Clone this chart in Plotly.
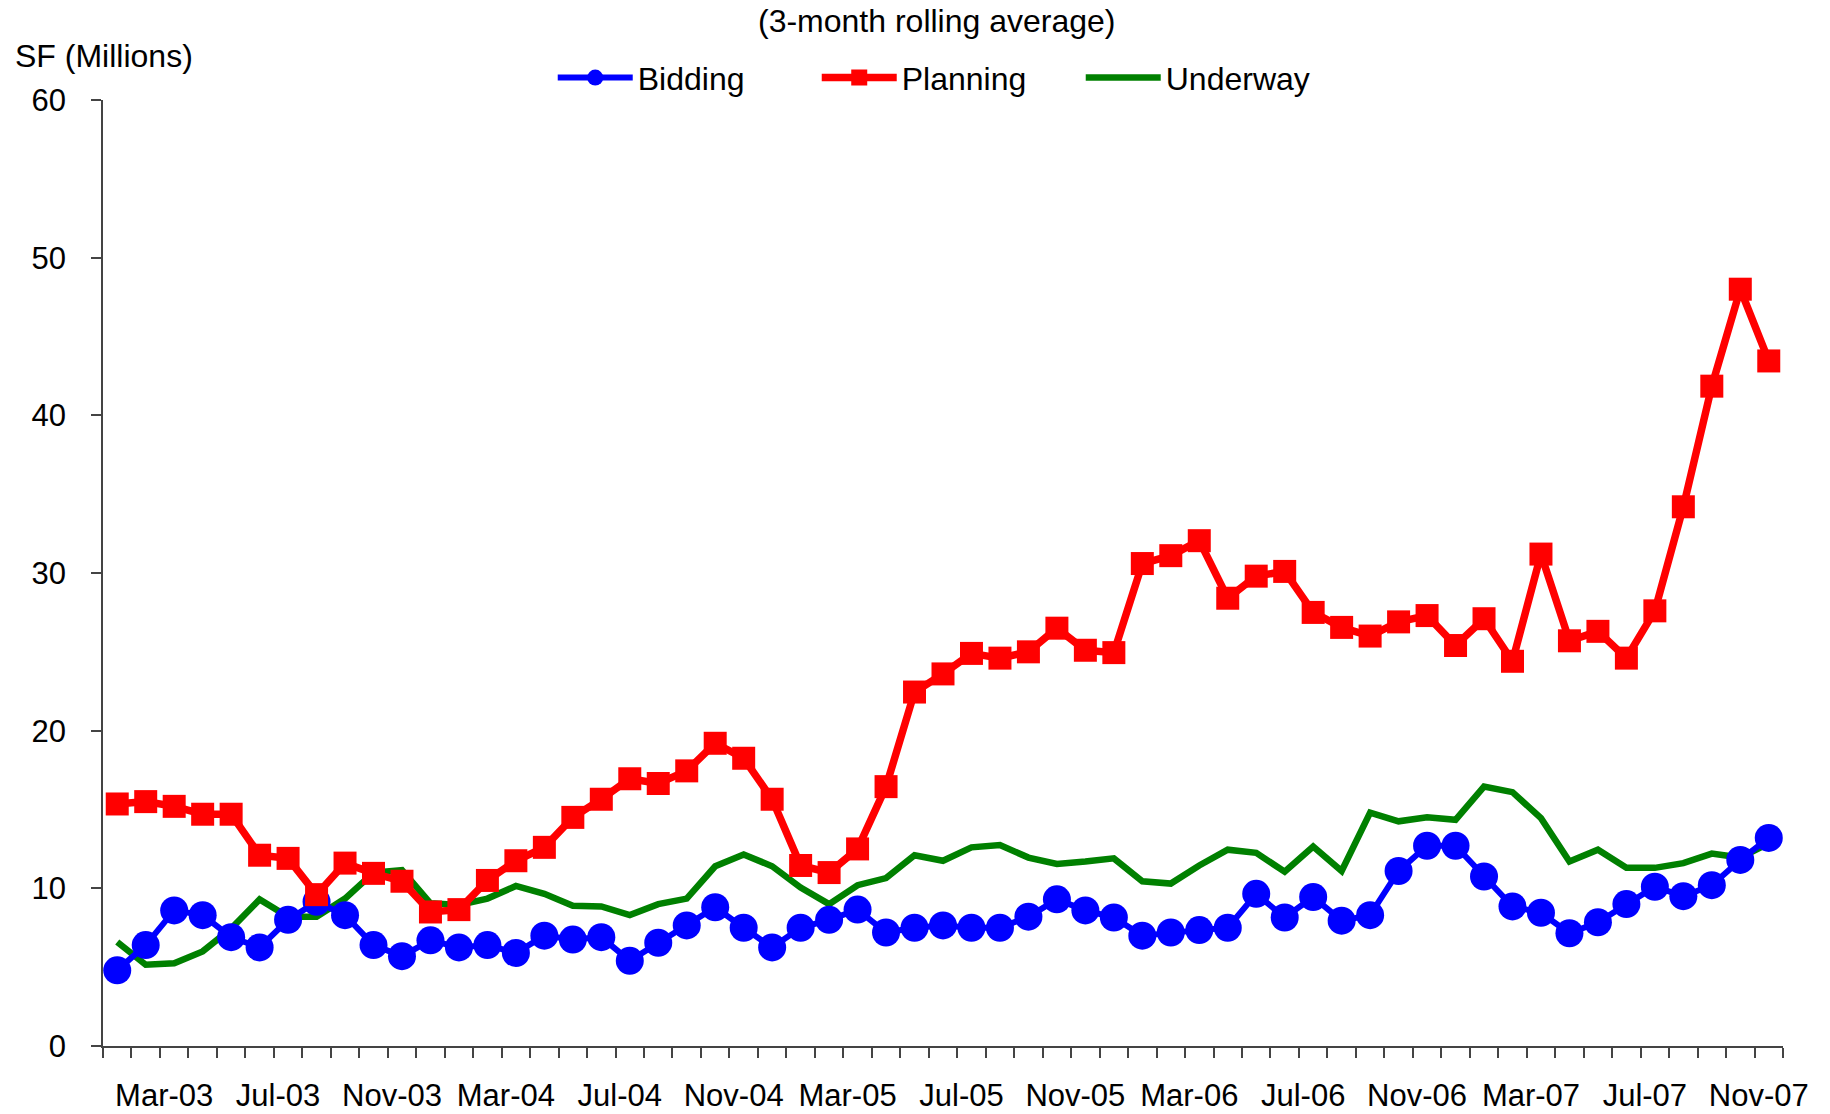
import plotly.graph_objects as go

months = [
    "Jan-03", "Feb-03", "Mar-03", "Apr-03", "May-03", "Jun-03", "Jul-03", "Aug-03", "Sep-03", "Oct-03", "Nov-03", "Dec-03",
    "Jan-04", "Feb-04", "Mar-04", "Apr-04", "May-04", "Jun-04", "Jul-04", "Aug-04", "Sep-04", "Oct-04", "Nov-04", "Dec-04",
    "Jan-05", "Feb-05", "Mar-05", "Apr-05", "May-05", "Jun-05", "Jul-05", "Aug-05", "Sep-05", "Oct-05", "Nov-05", "Dec-05",
    "Jan-06", "Feb-06", "Mar-06", "Apr-06", "May-06", "Jun-06", "Jul-06", "Aug-06", "Sep-06", "Oct-06", "Nov-06", "Dec-06",
    "Jan-07", "Feb-07", "Mar-07", "Apr-07", "May-07", "Jun-07", "Jul-07", "Aug-07", "Sep-07", "Oct-07", "Nov-07",
]

label_months = ["Mar-03", "Jul-03", "Nov-03", "Mar-04", "Jul-04", "Nov-04", "Mar-05", "Jul-05",
                "Nov-05", "Mar-06", "Jul-06", "Nov-06", "Mar-07", "Jul-07", "Nov-07"]

bidding = [4.8, 6.4, 8.6, 8.3, 6.9, 6.25, 8.0, 9.15, 8.3, 6.4, 5.7, 6.7, 6.25, 6.4, 5.9, 7.0, 6.75,
           6.9, 5.4, 6.55, 7.65, 8.8, 7.5, 6.25, 7.5, 8.0, 8.65, 7.2, 7.5, 7.65, 7.5, 7.5, 8.2,
           9.3, 8.6, 8.15, 7.0, 7.2, 7.35, 7.5, 9.65, 8.15, 9.45, 7.95, 8.3, 11.1, 12.7, 12.7, 10.75,
           8.85, 8.45, 7.15, 7.85, 9.0, 10.1, 9.5, 10.2, 11.8, 13.2]

planning = [15.35, 15.5, 15.2, 14.7, 14.7, 12.1, 11.9, 9.6, 11.6, 10.95, 10.45, 8.5, 8.65, 10.5, 11.75, 12.6, 14.5,
            15.65, 16.95, 16.65, 17.45, 19.2, 18.25, 15.65, 11.45, 11.0, 12.5, 16.45, 22.45, 23.6, 24.9, 24.6,
            25.0, 26.5, 25.1, 24.95, 30.6, 31.1, 32.05, 28.4, 29.8, 30.1, 27.5, 26.55, 26.0, 26.9, 27.3, 25.4, 27.1,
            24.4, 31.2, 25.7, 26.3, 24.6, 27.6, 34.2, 41.85, 48.0, 43.45]

underway = [6.6, 5.15, 5.25, 6.0, 7.45, 9.3, 8.2, 8.2, 9.35, 11.0, 11.15, 9.05, 8.95, 9.35, 10.15, 9.65, 8.9,
            8.85, 8.3, 9.0, 9.35, 11.4, 12.15, 11.4, 10.05, 9.0, 10.2, 10.65, 12.1, 11.75, 12.6, 12.75,
            11.95, 11.55, 11.7, 11.9, 10.45, 10.3, 11.45, 12.45, 12.25, 11.05, 12.65, 11.1, 14.8, 14.25, 14.5, 14.35, 16.45,
            16.1, 14.45, 11.7, 12.45, 11.3, 11.3, 11.6, 12.2, 11.95, 12.85]

y_ticks = [0, 10, 20, 30, 40, 50, 60]

FONT = "Liberation Sans, Arial, Helvetica, sans-serif"
AXIS_COLOR = "#444444"

x = list(range(len(months)))
n = len(months)

fig = go.Figure()
fig.add_trace(go.Scatter(
    x=x, y=underway, name="Underway", mode="lines", customdata=months,
    line=dict(color="#008000", width=6.5), legendrank=3,
))
fig.add_trace(go.Scatter(
    x=x, y=bidding, name="Bidding", mode="lines+markers", customdata=months,
    line=dict(color="#0000FF", width=6),
    marker=dict(symbol="circle", size=28, color="#0000FF"), legendrank=1,
))
fig.add_trace(go.Scatter(
    x=x, y=planning, name="Planning", mode="lines+markers", customdata=months,
    line=dict(color="#FF0000", width=7.5),
    marker=dict(symbol="square", size=23, color="#FF0000"), legendrank=2,
))

fig.update_layout(
    width=1830, height=1114,
    margin=dict(l=103, r=47, t=100, b=68, pad=0),
    paper_bgcolor="white", plot_bgcolor="white",
    font=dict(family=FONT, size=32, color="black"),
    showlegend=True,
    legend=dict(orientation="h", x=0.2677, xanchor="left", y=1.0235, yanchor="middle",
                font=dict(size=32), itemwidth=75, entrywidth=174, bgcolor="rgba(0,0,0,0)"),
    annotations=[
        dict(text="(3-month rolling average)", x=0.4964, y=1.0835, xref="paper", yref="paper",
             xanchor="center", yanchor="middle", showarrow=False, font=dict(size=32)),
        dict(text="SF (Millions)", x=-0.0535, y=1.0465, xref="paper", yref="paper",
             xanchor="left", yanchor="middle", showarrow=False, font=dict(size=32)),
    ],
    xaxis=dict(
        range=[-0.5, n - 0.5], showgrid=False, zeroline=False, automargin=False,
        showline=True, linecolor=AXIS_COLOR, linewidth=1.5,
        tickmode="array", tickvals=[months.index(m) for m in label_months], ticktext=label_months,
        ticks="", ticklabelshift=-10, ticklabelstandoff=21,
        tickfont=dict(size=31),
        minor=dict(ticks="outside", tick0=-0.5, dtick=1, ticklen=10, tickcolor=AXIS_COLOR, tickwidth=1.5),
    ),
    xaxis2=dict(
        range=[-0.5, n - 0.5], overlaying="x", anchor="y", side="bottom", automargin=False,
        showgrid=False, zeroline=False, showline=False, showticklabels=False,
        tickmode="linear", tick0=0.5, dtick=2, ticks="inside", ticklen=8,
        tickcolor=AXIS_COLOR, tickwidth=1.5,
    ),
    yaxis=dict(
        range=[0, 60], showgrid=False, zeroline=False, automargin=False,
        showline=True, linecolor=AXIS_COLOR, linewidth=1.5,
        tickmode="array", tickvals=y_ticks, ticks="outside", ticklen=10,
        tickcolor=AXIS_COLOR, tickwidth=1.5, ticklabelstandoff=19,
        tickfont=dict(size=31),
    ),
)

fig.write_html("out.html", config={"displayModeBar": False},
               post_script="document.body.style.margin='0';")
